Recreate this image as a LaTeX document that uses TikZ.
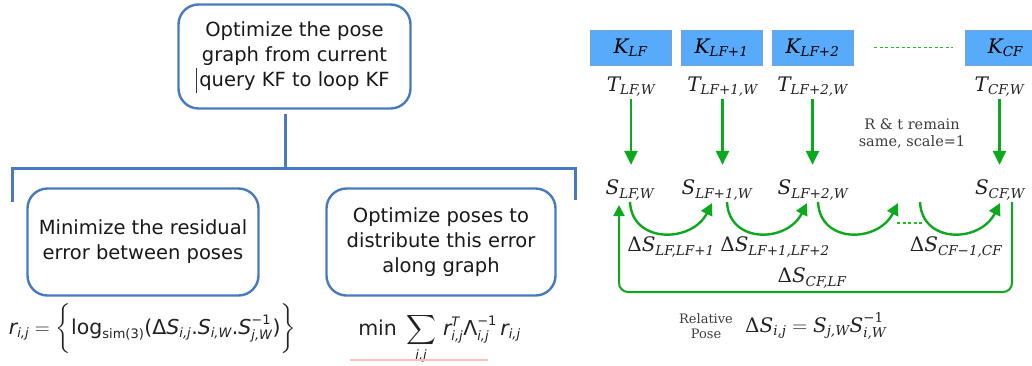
\documentclass[tikz,border=0pt]{standalone}
\usepackage{fontspec}
\usepackage{amsmath}
\usetikzlibrary{arrows.meta,calc}
\newfontfamily\dvsans{DejaVu Sans}
\newfontfamily\dvserif{DejaVu Serif}
% main pieces and script pieces in the two text faces
\newcommand\Ri[1]{\text{\dvserif\itshape #1}}
\newcommand\Ru[1]{\text{\dvserif #1}}
\newcommand\Rs[1]{\text{\dvserif\itshape\fontsize{13.5}{15}\selectfont #1}}
\newcommand\Rsu[1]{\text{\dvserif\fontsize{13.5}{15}\selectfont #1}}
\newcommand\Li[1]{\text{\dvsans\itshape #1}}
\newcommand\Lu[1]{\text{\dvsans #1}}
\newcommand\Ls[1]{\text{\dvsans\itshape\fontsize{13}{15}\selectfont #1}}
\newcommand\Lsu[1]{\text{\dvsans\fontsize{13}{15}\selectfont #1}}
\definecolor{lblue}{RGB}{72,122,192}
\definecolor{kblue}{RGB}{88,170,250}
\definecolor{kedge}{RGB}{120,160,215}
\definecolor{pgreen}{RGB}{12,168,30}
\definecolor{lgreen}{RGB}{30,190,30}
\definecolor{labgray}{RGB}{34,34,34}
\definecolor{notegray}{RGB}{60,60,60}
\tikzset{
  lbox/.style={draw=lblue, line width=2.4pt, rounded corners=20pt, fill=white,
    align=center, inner sep=0pt, text=black!90,
    font=\dvsans\fontsize{19.5}{25}\selectfont},
  bline/.style={draw=lblue, line width=3pt},
  kbox/.style={draw=kedge, line width=0.8pt, fill=kblue, minimum width=81pt,
    minimum height=35pt, inner sep=0pt, font=\fontsize{20}{24}\selectfont},
  lab/.style={inner sep=0pt, text=labgray, font=\fontsize{20}{24}\selectfont},
  formula/.style={inner sep=0pt, text=labgray, font=\fontsize{20.5}{24}\selectfont},
  note/.style={inner sep=0pt, align=center, text=notegray},
  garrow/.style={draw=pgreen, line width=2.6pt, -{Triangle[length=14pt,width=13pt]}},
  carrow/.style={draw=pgreen, line width=2.4pt, -{Triangle[length=12pt,width=12pt]}},
  looparrow/.style={draw=pgreen, line width=2pt, rounded corners=9pt,
    -{Triangle[length=11pt,width=11pt]}},
  gdots/.style={draw=lgreen, line width=1.8pt, dash pattern=on 3pt off 2.5pt},
}
\begin{document}
\begin{tikzpicture}[x=1pt, y=-1pt]
\useasboundingbox (0,0) rectangle (1032,365);

% ---------------- left: optimisation tree ----------------
\node[lbox, minimum width=232pt, minimum height=104pt] (top) at (294.5,56.5)
  {Optimize the pose\\graph from current\\query KF to loop KF};
\draw[black!80, line width=0.6pt] (196,68) -- (196,93);

\node[lbox, minimum width=231pt, minimum height=107pt] (resid) at (143,242)
  {Minimize the residual\\error between poses};
\node[lbox, minimum width=229pt, minimum height=107pt] (distr) at (441,242)
  {Optimize poses to\\distribute this error\\along graph};

\coordinate (bar) at (285,168);
\coordinate (bl) at (12,202);
\coordinate (br) at (575,200);
\draw[bline] ([xshift=-9.5pt,yshift=-4pt]top.south) -- (bar);
\draw[bline, line join=miter] (bl) |- (bar) -| (br);

\node[formula, anchor=base] (resf) at (152.5,334)
  {$\Li{r}_{\Ls{i,j}} = \bigg\{\Lu{log}_{\Lsu{sim(3)}}\Lu{(}\Lu{Δ}\Li{S}_{\Ls{i,j}}\Lu{.}\Li{S}_{\Ls{i,W}}\Lu{.}\Li{S}^{\Lsu{−1}}_{\Ls{j,W}}\Lu{)}\bigg\}$};
\node[formula, anchor=base] (minf) at (439.5,335)
  {$\Lu{min}\;\displaystyle\sum_{\Ls{i,j}}\,\Li{r}^{\Ls{T}}_{\Ls{i,j}}\Lu{Λ}^{\Lsu{−1}}_{\Ls{i,j}}\,\Li{r}_{\Ls{i,j}}$};
\draw[red!25, line width=1.5pt] (350,360) -- (488,360);

% ---------------- right: keyframe chain ----------------
\node[kbox] (k1) at (630.5,47.5) {$\Ri{K}_{\Rs{LF}}$};
\node[kbox] (k2) at (721.5,47.5) {$\Ri{K}_{\Rs{LF+1}}$};
\node[kbox] (k3) at (812.5,47.5) {$\Ri{K}_{\Rs{LF+2}}$};
\node[kbox] (k4) at (1005.5,47.5) {$\Ri{K}_{\Rs{CF}}$};
\draw[gdots] ([xshift=21pt]k3.east) -- ([xshift=-12pt]k4.west);

\node[lab] (t1) at (631,87) {$\Ri{T}_{\Rs{LF,W}}$};
\node[lab] (t2) at (722.5,87) {$\Ri{T}_{\Rs{LF+1,W}}$};
\node[lab] (t3) at (812.5,87) {$\Ri{T}_{\Rs{LF+2,W}}$};
\node[lab] (t4) at (999.5,87) {$\Ri{T}_{\Rs{CF,W}}$};

\node[lab] (s1) at (630,190) {$\Ri{S}_{\Rs{LF,W}}$};
\node[lab] (s2) at (717,190) {$\Ri{S}_{\Rs{LF+1,W}}$};
\node[lab] (s3) at (813,190) {$\Ri{S}_{\Rs{LF+2,W}}$};
\node[lab] (s4) at (1000,190) {$\Ri{S}_{\Rs{CF,W}}$};

\foreach \i in {1,...,4}
  \draw[garrow, shorten <=2pt, shorten >=15pt] (t\i.south) -- (t\i.south |- s\i.north);

\node[note, font=\dvserif\fontsize{14.5}{17}\selectfont] (rt) at (912,134)
  {R \& t remain\\same, scale=1};

% relative-pose arcs
\coordinate (a1) at (630,202);  \coordinate (b1) at (712,203);
\coordinate (a2) at (727,202);  \coordinate (b2) at (807,203);
\coordinate (a3) at (818,202);  \coordinate (b3) at (898,203);
\coordinate (a4) at (920,202);  \coordinate (b4) at (1000,203);
\foreach \i in {1,...,4}
  \draw[carrow] (a\i) .. controls ($(a\i)+(2,42)$) and ($(b\i)+(-20,40)$) .. (b\i);
\coordinate (d1) at (897,223);  \coordinate (d2) at (922,223);
\draw[gdots] (d1) -- (d2);

\node[lab] (ds1) at (671,247) {$\Ru{Δ}\Ri{S}_{\Rs{LF,LF+1}}$};
\node[lab] (ds2) at (775,247) {$\Ru{Δ}\Ri{S}_{\Rs{LF+1,LF+2}}$};
\node[lab] (ds3) at (956,247) {$\Ru{Δ}\Ri{S}_{\Rs{CF−1,CF}}$};

% loop closure back to the first keyframe
\coordinate (ls) at (1012,202);
\coordinate (le) at (619,205);
\draw[looparrow] (ls) -- ++(0,90) -| (le);
\node[lab] (dsl) at (812,278) {$\Ru{Δ}\Ri{S}_{\Rs{CF,LF}}$};

\node[note, font=\dvserif\fontsize{13}{15}\selectfont] (rp) at (706,326) {Relative\\Pose};
\node[lab, anchor=base west] (rpf) at (745,332)
  {$\Ru{Δ}\Ri{S}_{\Rs{i,j}} = \Ri{S}_{\Rs{j,W}}\Ri{S}^{\Rsu{−1}}_{\Rs{i,W}}$};
\end{tikzpicture}
\end{document}
